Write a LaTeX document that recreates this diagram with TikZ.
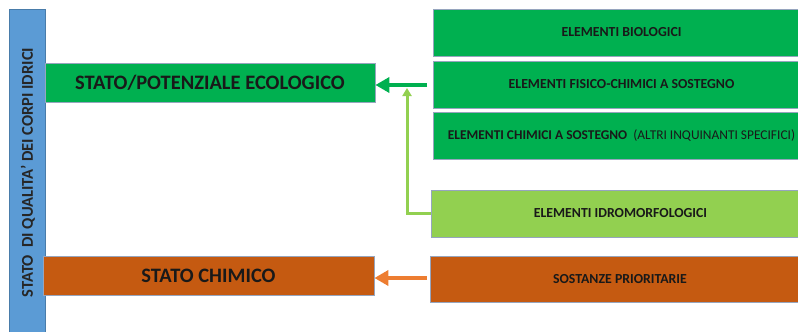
\documentclass[tikz,border=0pt]{standalone}
\usepackage{fontspec}
\setmainfont{Carlito}
\usetikzlibrary{arrows.meta}
\definecolor{ecogreen}{RGB}{0,176,80}
\definecolor{idrogreen}{RGB}{146,208,80}
\definecolor{chimorange}{RGB}{197,90,17}
\definecolor{arroworange}{RGB}{237,125,49}
\definecolor{barblue}{RGB}{91,155,213}
\definecolor{edgegray}{RGB}{150,165,190}
\tikzset{
	box/.style={draw=edgegray, line width=0.8pt, inner sep=0pt, align=center, font=\bfseries, text=black!90},
	bigbox/.style={box, minimum width=330pt, minimum height=39pt, font=\bfseries\fontsize{20.5}{24}\selectfont},
	smallbox/.style={box, minimum width=377pt, minimum height=47pt, font=\bfseries\fontsize{13.8}{16}\selectfont},
	feed/.style={line width=4.5pt, -{Triangle[width=15pt,length=14pt]}}
}

\begin{document}
\begin{tikzpicture}[x=1pt, y=-1pt]
		%%%%% START %%%%%
		\clip (0, 0) rectangle (798, 332);
		
		\node[box, fill=barblue, draw=barblue!80!black, minimum width=323pt, minimum height=36pt, rotate=90] (qual) at (27, 170.5) {};
		\node[rotate=90, font=\bfseries\fontsize{16.5}{19}\selectfont, text=black!85, inner sep=0pt] (qualtext) at (28, 172.5) {STATO~~DI QUALITA' DEI CORPI IDRICI};
		
		\node[bigbox, fill=ecogreen] (eco) at (210, 82.5) {STATO/POTENZIALE ECOLOGICO};
		\node[bigbox, fill=chimorange, minimum width=331pt] (chim) at (208.5, 275.5) {STATO CHIMICO};
		
		\node[smallbox, fill=ecogreen] (bio) at (621.5, 32.5) {ELEMENTI BIOLOGICI};
		\node[smallbox, fill=ecogreen] (fis) at (621.5, 84.5) {ELEMENTI FISICO-CHIMICI A SOSTEGNO};
		\node[smallbox, fill=ecogreen, font=\bfseries\fontsize{13.4}{16}\selectfont] (chi) at (621.5, 135.5) {ELEMENTI CHIMICI A SOSTEGNO~~{\mdseries (ALTRI INQUINANTI SPECIFICI)}};
		\node[smallbox, fill=idrogreen, minimum width=379pt] (idro) at (620.5, 213.5) {ELEMENTI IDROMORFOLOGICI};
		\node[smallbox, fill=chimorange, minimum width=380pt, minimum height=46pt] (sost) at (620, 279) {SOSTANZE PRIORITARIE};
		
		\coordinate (ecoin) at (427, 85);
		\coordinate (idrotip) at (407, 88);
		\coordinate (chimin) at (427, 278);
		
		\draw[feed, ecogreen] (ecoin) -- (eco.east |- ecoin);
		\draw[feed, idrogreen, line width=3pt, -{Triangle[width=9pt,length=8pt]}] (idro.west) -| (idrotip);
		\draw[feed, arroworange, line width=4pt] (chimin) -- (chim.east |- chimin);
		%%%%% END %%%%%
\end{tikzpicture}
\end{document}
